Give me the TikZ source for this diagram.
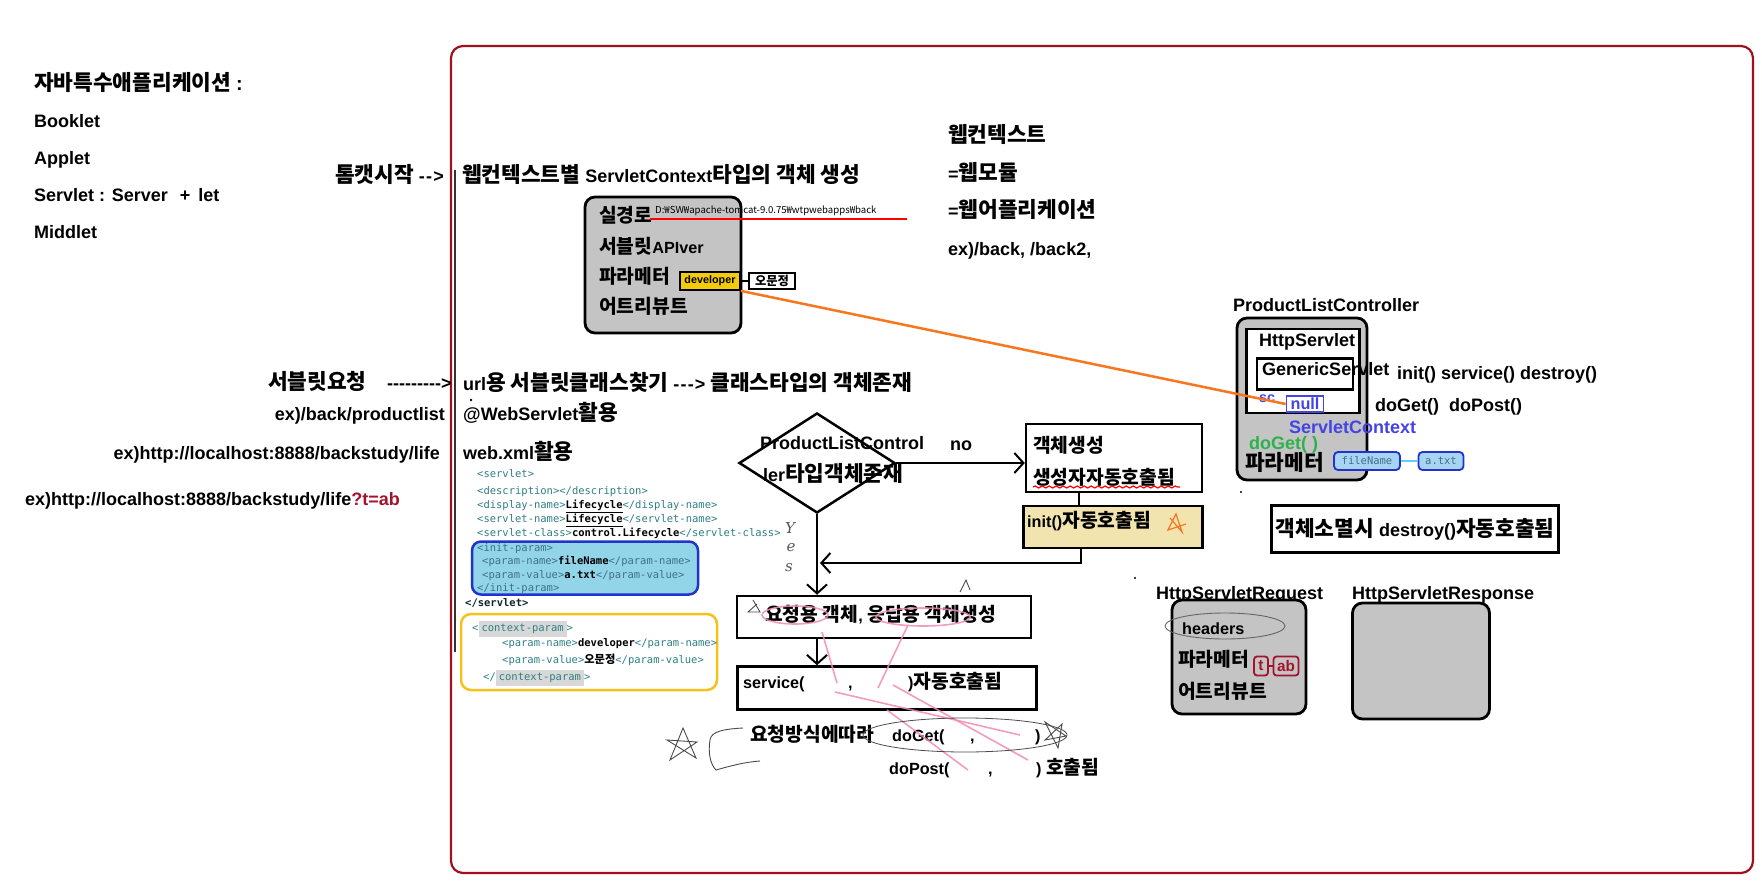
\documentclass[tikz,border=0pt]{standalone}
\usepackage{fontspec}
\newfontfamily\krlat[Scale=0.9]{Liberation Sans}
\newfontfamily\hanfont[Scale=1.07]{Noto Sans CJK KR}
\newfontfamily\cjkplain{Noto Sans CJK KR}
\newfontfamily\codef{DejaVu Sans Mono}
\newfontfamily\handf{DejaVu Serif}
\XeTeXinterchartokenstate=1
\newXeTeXintercharclass\hanclass
\count255="AC00
\loop\XeTeXcharclass\count255=\hanclass\ifnum\count255<"D7A3 \advance\count255 by 1 \repeat
\XeTeXinterchartoks 0 \hanclass = {\begingroup\hanfont}
\XeTeXinterchartoks 4095 \hanclass = {\begingroup\hanfont}
\XeTeXinterchartoks \hanclass 0 = {\endgroup}
\XeTeXinterchartoks \hanclass 4095 = {\endgroup}
\usetikzlibrary{shapes.geometric,arrows.meta,decorations.pathmorphing}
\newcommand\fs[1]{\krlat\fontsize{#1}{#1}\selectfont\bfseries}
\newcommand\cf{\codef\fontsize{10.5}{10.5}\selectfont}
\definecolor{framec}{HTML}{A0101F}
\definecolor{boxgray}{HTML}{C4C4C4}
\definecolor{xmltag}{HTML}{2F7F86}
\definecolor{xmltagb}{HTML}{3F6F8A}
\definecolor{cyanfill}{HTML}{92D5E8}
\definecolor{blueb}{HTML}{2233CC}
\definecolor{ylw}{HTML}{F5C21B}
\definecolor{devfill}{HTML}{F2CC0C}
\definecolor{initfill}{HTML}{F2E4AE}
\definecolor{orng}{HTML}{F7761E}
\definecolor{pinkl}{HTML}{F08CB4}
\definecolor{darkred}{HTML}{A3132B}
\definecolor{scblue}{HTML}{4444E6}
\definecolor{grn}{HTML}{2DB24A}
\definecolor{hl}{HTML}{D8D8D8}
\definecolor{fnfill}{HTML}{A6D4F2}
\newcommand\tg[1]{\textcolor{xmltag}{#1}}
\newcommand\tb[1]{\textcolor{xmltagb}{#1}}
\newcommand\dsh{-\kern1.2pt}
\begin{document}
\begin{tikzpicture}[x=1pt,y=-1pt,
  lbl/.style={inner sep=0pt, anchor=west, font=\fs{20}, text height=16pt, text depth=2pt},
  lbs/.style={inner sep=0pt, anchor=west, font=\fs{18}, text height=14.6pt, text depth=2pt},
  code/.style={inner sep=0pt, anchor=west, font=\cf, text height=8.5pt, text depth=1.5pt},
  graybox/.style={draw, line width=2.8pt, fill=boxgray, rounded corners=10pt, inner sep=0pt},
  plainbox/.style={draw, line width=2.5pt, fill=white, inner sep=0pt},
  arw/.style={line width=2.5pt, -{Straight Barb[length=9pt,width=20pt,line width=2pt]}},
  pink/.style={pinkl, line width=1.6pt, opacity=0.85},
  hand/.style={black!70, line width=0.9pt},
  yes/.style={inner sep=0pt, font=\handf\itshape\fontsize{15}{15}\selectfont, text=black!65}
]
\fill[white] (0,0) rectangle (1762,881);
\useasboundingbox (0,0) rectangle (1762,881);

% frame
\draw[framec, line width=2.2pt, rounded corners=12pt] (451,46) rectangle (1753,873);
\draw[black!80, line width=2pt] (455,170) -- (455,652);

% left column
\node[lbl] (t1) at (34,83) {자바특수애플리케이션 {\fontsize{22}{22}\selectfont :}};
\node[lbl] (t2) at (34,120) {Booklet};
\node[lbl] (t3) at (34,157) {Applet};
\node[lbl] (t4) at (34,194) {Servlet : Server\hspace{12pt}+\hspace{8pt}let};
\node[lbl] (t5) at (34,231) {Middlet};

\node[lbl] (tomcat) at (335,175) {톰캣시작 \dsh\dsh>};
\node[lbl] (ctxhead) at (462,175) {웹컨텍스트별 ServletContext타입의 객체 생성};

\node[lbl] (wc1) at (948,135) {웹컨텍스트};
\node[lbl] (wc2) at (948,173) {=웹모듈};
\node[lbl] (wc3) at (948,210) {=웹어플리케이션};
\node[lbl] (wc4) at (948,248) {ex)/back, /back2,};

% ServletContext box
\node[graybox, minimum width=156pt, minimum height=136pt] (scbox) at (663,265) {};
\node[lbs] (sc1) at (599,216) {실경로};
\node[inner sep=0pt, anchor=west, font=\cjkplain\fontsize{9.6}{9.6}\selectfont] (path) at (655,211) {D:₩SW₩apache-tomcat-9.0.75₩wtpwebapps₩back};
\draw[red, line width=1.6pt] (650,219) -- (907,219);
\node[lbs] (sc2) at (599,247) {서블릿APIver};
\node[lbs] (sc3) at (599,277) {파라메터};
\node[lbs] (sc4) at (599,307) {어트리뷰트};
\node[draw, line width=1.8pt, fill=devfill, minimum width=60pt, minimum height=18pt, inner sep=0pt, font=\fs{12}] (dev) at (710,281) {developer};
\node[draw, line width=1.8pt, fill=white, minimum width=46pt, minimum height=16pt, inner sep=0pt, font=\fs{11.5}] (omj) at (772,281) {오문정};
\draw[line width=1.5pt] (dev.east) -- (omj.west);

% servlet request
\node[lbl] (sreq) at (268,382) {서블릿요청};
\node[lbl] (sreqd) at (387,382) {--------->};
\node[lbl] (urlline) at (463,383) {url용 서블릿클래스찾기 \dsh\dsh\dsh> 클래스타입의 객체존재};
\node[lbl, anchor=east] (exback) at (445,413) {ex)/back/productlist};
\node[lbl] (webservlet) at (463,413) {@WebServlet활용};
\node[lbl, anchor=east] (exhttp1) at (440,452) {ex)http://localhost:8888/backstudy/life};
\node[lbl] (webxml) at (463,452) {web.xml활용};
\node[lbl] (exhttp2) at (25,498) {ex)http://localhost:8888/backstudy/life\textcolor{darkred}{?t=ab}};
\fill[black] (471,400) circle (1.3pt);

% xml
\node[code] (x1) at (477,474) {\tg{<servlet>}};
\node[code] (x2) at (477,491) {\tg{<description></description>}};
\node[code] (x3) at (477,505) {\tg{<display-name>}\textbf{\underline{Lifecycle}}\tg{</display-name>}};
\node[code] (x4) at (477,519) {\tg{<servlet-name>}\textbf{\underline{Lifecycle}}\tg{</servlet-name>}};
\node[code] (x5) at (477,533) {\tg{<servlet-class>}\textbf{control.Lifecycle}\tg{</servlet-class>}};
\node[draw=blueb, line width=2.5pt, fill=cyanfill, rounded corners=9pt, minimum width=226pt, minimum height=53pt, inner sep=0pt] (initp) at (585,568) {};
\node[code] (x6) at (477,548) {\tb{<init-param>}};
\node[code] (x7) at (482,561) {\tb{<param-name>}\textbf{fileName}\tb{</param-name>}};
\node[code] (x8) at (482,575) {\tb{<param-value>}\textbf{a.txt}\tb{</param-value>}};
\node[code] (x9) at (477,588) {\tb{</init-param>}};
\node[code] (x10) at (465,603) {\textcolor{black!70!xmltag}{\textbf{</servlet>}}};
\node[draw=ylw, line width=2.5pt, fill=white, rounded corners=10pt, minimum width=256pt, minimum height=76pt, inner sep=0pt] (ctxp) at (589,652) {};
\node[code] (x11) at (472,628) {\tg{<}\colorbox{hl}{\tg{context-param}}\tg{>}};
\node[code] (x12) at (502,643) {\tg{<param-name>}\textbf{developer}\tg{</param-name>}};
\node[code] (x13) at (502,660) {\tg{<param-value>}{\bfseries 오문정}\tg{</param-value>}};
\node[code] (x14) at (483,677) {\tg{</}\colorbox{hl}{\tg{context-param}}\tg{>}};

% flow
\node[draw, diamond, line width=2.5pt, minimum width=156pt, minimum height=100pt, inner sep=0pt] (dia) at (817,463) {};
\node[lbl] (diat1) at (760,442) {ProductListControl};
\node[lbl] (diat2) at (763,474) {ler타입객체존재};
\node[lbl] (no) at (950,443) {no};

\node[plainbox, minimum width=176pt, minimum height=68pt] (objb) at (1114,458) {};
\node[lbs] (objt1) at (1033,446) {객체생성};
\node[lbs] (objt2) at (1033,478) {생성자자동호출됨};
\draw[red, line width=1.2pt, decorate, decoration={snake, amplitude=1pt, segment length=7pt}] (1033,487) -- (1180,487);

\node[plainbox, fill=initfill, line width=2.8pt, minimum width=179pt, minimum height=42pt] (initb) at (1113,527) {};
\node[lbs] (initt) at (1027,521) {init()자동호출됨};

\draw[arw] (dia.east) -- (dia.east -| objb.west);
\draw[line width=2pt] ([xshift=-35pt]objb.south) -- ([xshift=-34pt]initb.north);
\coordinate (loopend) at (820,563);
\draw[arw] ([xshift=-32pt]initb.south) |- (loopend);

\node[plainbox, minimum width=294pt, minimum height=42pt] (reqb) at (884,617) {};
\node[lbs] (reqt) at (765,615) {요청용 객체, 응답용 객체생성};
\node[plainbox, minimum width=299pt, minimum height=43pt] (svcb) at (887,688) {};
\node[lbs] (svc1) at (743,682) {service(};
\node[lbs] (svc2) at (848,682) {,};
\node[lbs] (svc3) at (908,682) {)자동호출됨};
\draw[arw] (dia.south) -- (dia.south |- reqb.north);
\draw[arw] (dia.south |- reqb.south) -- (dia.south |- svcb.north);

\node[lbs] (how) at (750,735) {요청방식에따라};
\node[lbs] (doget) at (892,735) {doGet(};
\node[lbs] (cm1) at (970,735) {,};
\node[lbs] (pr1) at (1035,735) {)};
\node[lbs] (dopost) at (889,768) {doPost(};
\node[lbs] (cm2) at (988,768) {,};
\node[lbs] (pr2) at (1036,768) {) 호출됨};

% handwritten yes
\node[yes] (y1) at (790,528) {Y};
\node[yes] (y2) at (791,548) {e};
\node[yes] (y3) at (789,568) {s};

% pink annotation
\draw[pink] (795,615) ellipse [x radius=33pt, y radius=9pt];
\draw[pink] (923,617) ellipse [x radius=47pt, y radius=9pt];
\draw[pink] (822,632) -- (837,683);
\draw[pink] (835,692) -- (1020,735);
\draw[pink] (908,625) -- (878,688);
\draw[pink] (893,685) -- (1028,760);
\draw[pink] (887,710) -- (968,770);
\draw[black!70, line width=0.8pt] (965,735) ellipse [x radius=102pt, y radius=17pt];
\draw[hand] (1045,722) -- (1058,748) -- (1062,724) -- (1045,740) -- (1066,736) -- cycle;
\draw[hand] (670,760) -- (683,728) -- (696,758) -- (667,740) -- (697,742) -- cycle;
\draw[hand] (743,728) .. controls (725,729) and (711,731) .. (710,740) .. controls (708,752) and (710,764) .. (716,770) .. controls (730,766) and (745,762) .. (760,761);
\draw[hand] (753,600) -- (760,612) -- (748,612) -- (757,604);
\draw[orng, line width=1.2pt] (1170,518) -- (1182,532) -- (1176,514) -- (1168,530) -- (1186,524);
\draw[hand] (960,592) -- (966,580) -- (970,590);

% ProductListController
\node[lbl] (plcl) at (1233,304) {ProductListController};
\node[graybox, minimum width=130pt, minimum height=162pt] (plc) at (1302,399) {};
\node[plainbox, minimum width=113pt, minimum height=84pt] (httpb) at (1303,371) {};
\node[plainbox, minimum width=96pt, minimum height=31pt] (genb) at (1305,374) {};
\node[lbl] (httpt) at (1259,339) {HttpServlet};
\node[lbl] (gent) at (1262,368) {GenericServlet};
\node[inner sep=0pt, anchor=west, font=\fs{16}, text=scblue] (sct) at (1259,399) {sc};
\node[draw=scblue, line width=1.8pt, minimum width=37pt, minimum height=16pt, inner sep=0pt, font=\fs{18}, text=scblue] (nullb) at (1305,404) {null};
\node[lbl, text=scblue] (sctx) at (1289,426) {ServletContext};
\node[lbl, text=grn] (doget2) at (1249,442) {doGet( )};
\node[lbl] (param2) at (1245,463) {파라메터};
\node[draw=blueb, line width=1.8pt, fill=fnfill, rounded corners=4pt, minimum width=66pt, minimum height=18pt, inner sep=0pt, font=\codef\fontsize{10.5}{10.5}\selectfont, text=xmltagb] (fnb) at (1367,461) {fileName};
\node[draw=blueb, line width=1.8pt, fill=fnfill, rounded corners=4pt, minimum width=45pt, minimum height=18pt, inner sep=0pt, font=\codef\fontsize{10.5}{10.5}\selectfont, text=xmltagb] (atxt) at (1441,461) {a.txt};
\draw[cyan!60, line width=2pt] (fnb.east) -- (atxt.west);
\draw[orng, line width=2.5pt] (dev.south east) -- (nullb.west);
\node[lbl] (meth1) at (1397,372) {init() service() destroy()};
\node[lbl] (meth2) at (1375,404) {doGet() \ doPost()};
\fill[black] (1241,492) circle (1.2pt);

\node[plainbox, minimum width=287pt, minimum height=47pt] (destb) at (1415,529) {};
\node[lbl, anchor=center] (destt) at (1415,529) {객체소멸시 destroy()자동호출됨};

% request / response
\fill[black] (1135,578) circle (1.2pt);
\node[lbl] (hreql) at (1156,592) {HttpServletRequest};
\node[lbl] (hresl) at (1352,592) {HttpServletResponse};
\node[graybox, minimum width=134pt, minimum height=114pt] (hreq) at (1239,657) {};
\node[graybox, minimum width=137pt, minimum height=116pt] (hres) at (1421,661) {};
\node[lbs] (headers) at (1182,628) {headers};
\draw[black!60, line width=0.9pt] (1225,626) ellipse [x radius=60pt, y radius=13pt];
\node[lbs] (param3) at (1178,660) {파라메터};
\node[draw=darkred, line width=1.8pt, rounded corners=3pt, minimum width=14pt, minimum height=19pt, inner sep=0pt, font=\fs{17}, text=darkred] (tb) at (1261,666) {t};
\node[draw=darkred, line width=1.8pt, rounded corners=3pt, minimum width=25pt, minimum height=19pt, inner sep=0pt, font=\fs{17}, text=darkred] (abb) at (1286,666) {ab};
\draw[darkred, line width=1.5pt] (tb.east) -- (abb.west);
\node[lbs] (attr3) at (1178,692) {어트리뷰트};
\end{tikzpicture}
\end{document}
